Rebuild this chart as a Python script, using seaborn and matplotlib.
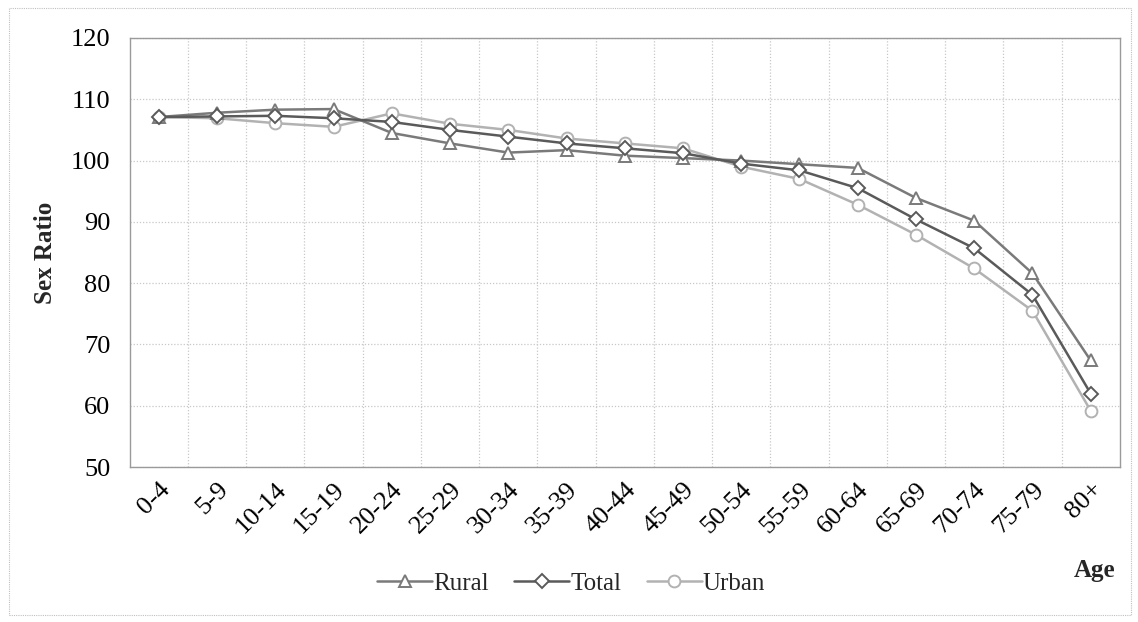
import numpy as np
import pandas as pd
import matplotlib
matplotlib.use("Agg")
import matplotlib.pyplot as plt
from matplotlib.patches import Rectangle
import seaborn as sns

# data
ages = ["0-4", "5-9", "10-14", "15-19", "20-24", "25-29", "30-34", "35-39", "40-44",
        "45-49", "50-54", "55-59", "60-64", "65-69", "70-74", "75-79", "80+"]
rural = [107.1, 107.8, 108.3, 108.4, 104.5, 102.8, 101.3, 101.7, 100.8,
         100.4, 100.0, 99.4, 98.8, 93.9, 90.2, 81.6, 67.4]
total = [107.1, 107.2, 107.3, 106.9, 106.3, 105.0, 103.9, 102.8, 102.0,
         101.2, 99.5, 98.4, 95.5, 90.4, 85.7, 78.1, 62.0]
urban = [107.1, 106.9, 106.1, 105.5, 107.7, 106.0, 105.0, 103.6, 102.8,
         102.0, 99.0, 97.0, 92.8, 87.9, 82.4, 75.5, 59.2]
series = ["Rural", "Total", "Urban"]

pos = np.arange(len(ages))
df = pd.DataFrame({
    "pos": np.tile(pos, 3),
    "ratio": rural + total + urban,
    "area": np.repeat(series, len(ages)),
})

sns.set_theme(style="white")
plt.rcParams["font.family"] = ["Liberation Serif", "DejaVu Serif"]

fig = plt.figure(figsize=(11.38, 6.22), dpi=100)
ax = fig.add_axes([0.114, 0.249, 0.870, 0.690])

colors = {"Rural": "#7a7a7a", "Total": "#5a5a5a", "Urban": "#b2b2b2"}
marks = {"Rural": "^", "Total": "D", "Urban": "o"}
sizes = {"Rural": 8.5, "Total": 7, "Urban": 8.5}

sns.lineplot(data=df, x="pos", y="ratio", hue="area", style="area",
             hue_order=series, style_order=series, palette=colors,
             markers=marks, dashes=False, linewidth=1.8, legend=False, ax=ax)

for line, name in zip(ax.lines, series):
    line.set_markerfacecolor("white")
    line.set_markeredgecolor(colors[name])
    line.set_markeredgewidth(1.4)
    line.set_markersize(sizes[name])
    line.set_zorder({"Rural": 3, "Total": 4, "Urban": 2}[name])

ax.set_xlim(-0.5, len(ages) - 0.5)
ax.set_ylim(50, 120)
ax.set_yticks(range(50, 121, 10))
ax.set_xticks(pos)
ax.set_xticklabels(ages, rotation=45, ha="right", rotation_mode="anchor")
ax.set_xticks(np.arange(0.5, len(ages) - 0.5, 1), minor=True)

ax.grid(False)
ax.grid(True, which="minor", axis="x", color="#c8c8c8", linestyle=(0, (1, 1.5)), linewidth=0.9)
ax.grid(True, which="major", axis="y", color="#c8c8c8", linestyle=(0, (1, 1.5)), linewidth=0.9)
ax.tick_params(axis="both", which="both", length=0, labelsize=19, colors="black")
ax.tick_params(axis="y", pad=14)
ax.tick_params(axis="x", pad=8)

for s in ax.spines.values():
    s.set_color("#9a9a9a")
    s.set_linestyle((0, (1, 1)))
    s.set_linewidth(1.0)

ax.set_xlabel("")
ax.set_ylabel("Sex Ratio", fontsize=18, fontweight="bold", labelpad=10)
fig.text(0.980, 0.083, "Age", fontsize=18, fontweight="bold", ha="right", va="center")

leg = fig.legend(ax.lines, series, loc="center", bbox_to_anchor=(0.502, 0.062), ncol=3,
                 frameon=False, fontsize=18, handlelength=2.2, handletextpad=0.05,
                 columnspacing=1.0)

fig.patches.append(Rectangle((0.008, 0.012), 0.986, 0.975, transform=fig.transFigure,
                             fill=False, edgecolor="#c0c0c0", linestyle=(0, (1, 1)),
                             linewidth=0.8))

plt.savefig("out.png", dpi=100)
